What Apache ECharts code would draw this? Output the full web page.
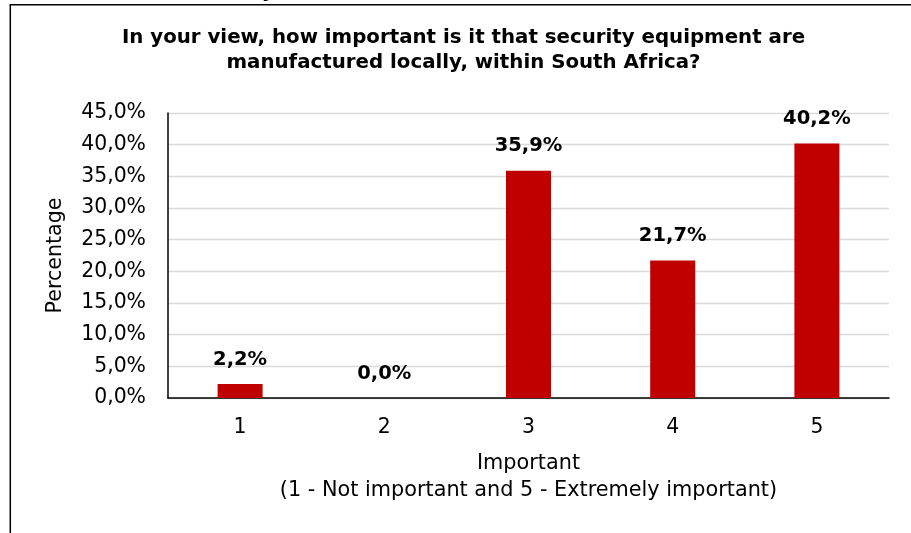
<!DOCTYPE html>
<html>
<head>
<meta charset="utf-8">
<script src="https://cdn.jsdelivr.net/npm/echarts@6/dist/echarts.min.js"></script>
<style>
html,body{margin:0;padding:0;background:#fff;}
#chart{width:911px;height:533px;}
</style>
</head>
<body>
<div id="chart"></div>
<script>
// ---- data ----
const categories = ['1', '2', '3', '4', '5'];
const percentages = [2.2, 0.0, 35.9, 21.7, 40.2];
const yMin = 0;
const yMax = 45;
const yStep = 5;
const titleText = 'In your view, how important is it that security equipment are\nmanufactured locally, within South Africa?';
const xAxisTitle = 'Important\n(1 - Not important and 5 - Extremely important)';
const yAxisTitle = 'Percentage';
const clippedHeading = 'y,';

const FONT = 'DejaVu Sans';
const pct = v => Number(v).toFixed(1).replace('.', ',') + '%';

const chart = echarts.init(document.getElementById('chart'), null, {renderer: 'canvas'});
chart.setOption({
  animation: false,
  backgroundColor: '#ffffff',
  textStyle: {fontFamily: FONT},
  title: {
    text: titleText,
    left: 463.5,
    textAlign: 'center',
    top: 25.5,
    padding: 0,
    textStyle: {fontFamily: FONT, fontWeight: 'bold', fontSize: 19.8, lineHeight: 24.6, color: '#000'}
  },
  grid: {left: 168, right: 22, top: 113, bottom: 135},
  xAxis: {
    type: 'category',
    data: categories,
    axisLine: {lineStyle: {color: '#000', width: 1.5}},
    axisTick: {show: false},
    axisLabel: {fontFamily: FONT, fontSize: 20.4, color: '#000', margin: 19.3},
    name: xAxisTitle,
    nameLocation: 'middle',
    nameGap: 52.4,
    nameTextStyle: {fontFamily: FONT, fontSize: 20.8, lineHeight: 26.7, color: '#000'}
  },
  yAxis: {
    type: 'value',
    min: yMin,
    max: yMax,
    interval: yStep,
    axisLine: {show: true, lineStyle: {color: '#000', width: 1.5}},
    axisTick: {show: false},
    splitLine: {lineStyle: {color: '#d9d9d9', width: 1.3}},
    axisLabel: {fontFamily: FONT, fontSize: 20.4, color: '#000', margin: 22, formatter: pct},
    name: yAxisTitle,
    nameLocation: 'middle',
    nameRotate: 90,
    nameGap: 101.6,
    nameTextStyle: {fontFamily: FONT, fontSize: 20.6, color: '#000'}
  },
  series: [{
    type: 'bar',
    data: percentages,
    barWidth: 45,
    itemStyle: {color: '#C00000'},
    label: {
      show: true,
      position: 'top',
      distance: 14.5,
      fontFamily: FONT,
      fontWeight: 'bold',
      fontSize: 19.5,
      color: '#000',
      formatter: p => pct(p.value)
    }
  }],
  graphic: [
    {
      type: 'rect',
      silent: true,
      shape: {x: 10.3, y: 4.8, width: 907, height: 600},
      style: {fill: 'none', stroke: '#000', lineWidth: 1.5},
      z: 100
    },
    {
      type: 'text',
      silent: true,
      x: 261.7,
      y: -8.4,
      style: {text: clippedHeading, fontFamily: FONT, fontWeight: 'bold', fontSize: 20, fill: '#000', align: 'left', verticalAlign: 'middle'}
    }
  ]
});
</script>
</body>
</html>
